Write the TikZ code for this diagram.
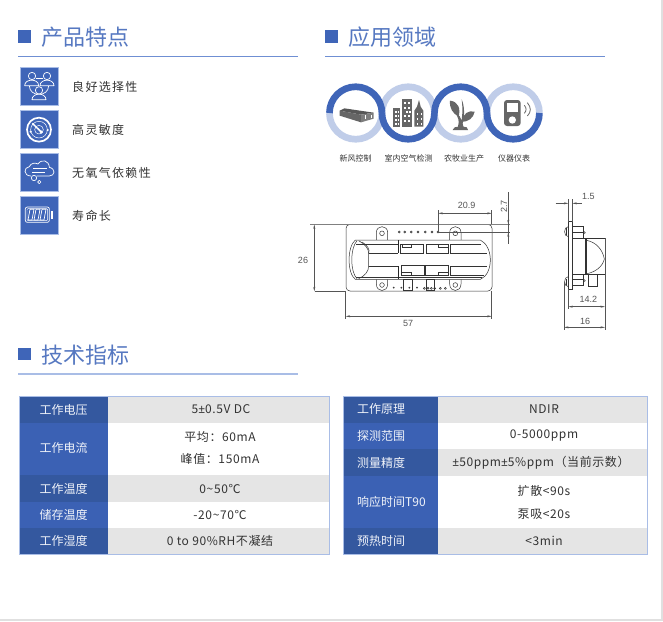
\documentclass[tikz,border=0pt]{standalone}
\usepackage{fontspec}
\usetikzlibrary{arrows.meta}
\setmainfont{Noto Sans CJK SC}
\newfontfamily\spc[LetterSpace=11]{Noto Sans CJK SC}
\newfontfamily\spv[LetterSpace=5]{Noto Sans CJK SC}
\newfontfamily\latv{Noto Sans}
\newfontfamily\dimf{Liberation Sans}
\newcommand{\pmch}{{\latv ±}}
\definecolor{blu}{HTML}{3F65B8}
\definecolor{rule}{HTML}{6F8FD3}
\definecolor{pale}{HTML}{A9BDE6}
\definecolor{ring}{HTML}{C0CDE9}
\definecolor{hdA}{HTML}{34589F}
\definecolor{hdB}{HTML}{3B61B4}
\definecolor{gry}{HTML}{E5E5E5}
\definecolor{ico}{HTML}{666666}
\definecolor{ink}{HTML}{333333}
\definecolor{dimc}{HTML}{555555}
\tikzset{
  title/.style={anchor=west,inner sep=0pt,text=blu!88!white,font=\fontsize{22}{24}\selectfont},
  feat/.style={anchor=west,inner sep=0pt,text=ink,font=\fontsize{12}{14}\spc},
  app/.style={inner sep=0pt,text=ink,font=\fontsize{8}{10}\selectfont},
  hd/.style={inner sep=0pt,text=white!92!blu,font=\fontsize{12}{14}\selectfont},
  val/.style={inner sep=0pt,text=ink,font=\fontsize{12}{14}\spv},
  iconbox/.style={fill=blu,draw=pale,line width=0.5pt},
  wl/.style={draw=white,line width=0.7pt,line join=round},
  dl/.style={draw=dimc,line width=0.45pt},
  mech/.style={draw=black!80,line width=0.5pt},
  dimarr/.style={dl,{Stealth[length=4.5pt,width=2pt]}-{Stealth[length=4.5pt,width=2pt]}},
  dimtxt/.style={inner sep=0pt,text=dimc,font=\fontsize{9}{11}\dimf},
  px3/.style={x=0.33333pt,y=-0.33333pt},
}
\begin{document}
\begin{tikzpicture}[x=1pt,y=-1pt]
\useasboundingbox (0,0) rectangle (663,621);
\fill[white] (0,0) rectangle (663,621);
\fill[black!12] (661,0) rectangle (663,621);
\fill[black!12] (0,619) rectangle (663,621);
% headings
\fill[blu] (18,30) rectangle (31,43);
\node[title] (t1) at (41,37) {产品特点};
\draw[rule,line width=0.8pt] (18,56.3) -- (298,56.3);
\fill[blu] (325,30) rectangle (338,43);
\node[title] (t2) at (348,37) {应用领域};
\draw[rule,line width=0.8pt] (325,56.3) -- (605,56.3);
\fill[blu] (18,347.5) rectangle (31,360);
\node[title] (t3) at (41,355) {技术指标};
\draw[pale,line width=1.2pt] (18,374) -- (298,374);
% feature icons
\foreach \yy in {67,110,153,196} \draw[iconbox] (20.5,\yy) rectangle (58.5,\yy+38);
\node[feat] (f1) at (72,87) {良好选择性};
\node[feat] (f2) at (72,130) {高灵敏度};
\node[feat] (f3) at (72,173) {无氧气依赖性};
\node[feat] (f4) at (72,216) {寿命长};
\begin{scope}[shift={(0,10)},px3]
 % people
 \draw[wl] (88,227) .. controls (88,262) and (146,262) .. (146,227);
 \draw[wl] (108,204) -- (128,204);
 \draw[wl,fill=blu] (74,227) .. controls (74,205) and (116,205) .. (116,227) -- cycle;
 \draw[wl,fill=blu] (120,227) .. controls (120,205) and (162,205) .. (162,227) -- cycle;
 \draw[wl,fill=blu] (96,198) circle (11);
 \draw[wl,fill=blu] (141,198) circle (11);
 \draw[wl,fill=blu] (96,269) .. controls (96,247) and (138,247) .. (138,269) -- cycle;
 \draw[wl,fill=blu] (117,241) circle (11);
 % radar
 \draw[white,line width=1.7pt] (117,359) circle (36);
 \draw[wl,line width=0.5pt] (117,359) circle (25);
 \draw[wl,line width=0.5pt] (117,359) circle (13);
 \draw[white,line width=1.5pt] (97,340) -- (124,366);
 \fill[white] (124,366) circle (5);
 \fill[white] (92,365) circle (3.5);
 \fill[white] (143,360) circle (3.5);
 % cloud
 \draw[wl] (93,498) .. controls (70,498) and (70,472) .. (88,470) .. controls (92,458) and (108,458) .. (114,462) .. controls (125,445) and (148,452) .. (148,472) .. controls (168,476) and (165,498) .. (148,498) -- (110,498);
 \draw[wl] (100,476) -- (140,476);
 \draw[wl] (96,486) -- (136,486);
 \draw[wl] (102,504) circle (8);
 \draw[wl] (118,516) circle (5);
 % battery
 \draw[wl,rounded corners=2pt] (76,591) rectangle (148,637);
 \draw[wl,line width=0.4pt,rounded corners=1pt] (81,596) rectangle (143,632);
 \draw[wl] (90,598) -- (84,630) -- (96,630) -- (102,598) -- cycle;
 \draw[wl] (108,598) -- (102,630) -- (114,630) -- (120,598) -- cycle;
 \draw[wl] (126,598) -- (120,630) -- (132,630) -- (138,598) -- cycle;
 \fill[white] (153,602) rectangle (158,628);
\end{scope}
% rings: pale halves first, dark S-curve above them
\foreach \cx in {355.7,460.7}
  \draw[ring,line width=6.7pt] (\cx-26.25,113) arc[start angle=180,end angle=360,radius=26.25pt];
\foreach \cx in {408.2,513.2}
  \draw[ring,line width=6.7pt] (\cx-26.25,113) arc[start angle=180,end angle=0,radius=26.25pt];
\foreach \cx in {355.7,460.7}
  \draw[blu,line width=6.7pt] (\cx-26.25,113) arc[start angle=180,end angle=0,radius=26.25pt];
\foreach \cx in {408.2,513.2}
  \draw[blu,line width=6.7pt] (\cx-26.25,113) arc[start angle=180,end angle=360,radius=26.25pt];
\begin{scope}[shift={(325,80)},px3]
 % vent box
 \fill[ico!85!black] (44,92) -- (58,85) -- (146,98) -- (108,104) -- cycle;
 \fill[ico] (44,92) -- (108,104) -- (108,127) -- (44,107) -- cycle;
 \fill[ico!85!white] (108,104) -- (146,98) -- (146,116) -- (108,127) -- cycle;
 \fill[white] (120,106) rectangle (124,118);
 \fill[white] (137,104) rectangle (141,114);
 % buildings
 \fill[ico] (205,85) rectangle (225,140);
 \fill[ico] (230,58) rectangle (262,140);
 \fill[ico] (268,140) -- (268,92) -- (276,80) -- (282,60) -- (287,80) -- (295,92) -- (295,140) -- cycle;
 \foreach \wx/\wy in {210/92,218/92,210/105,218/105,210/118,218/118,210/130,218/130,237/66,250/66,237/80,250/80,244/93,253/93,237/106,250/106,237/120,250/120,275/100,287/100,275/114,287/114,275/128,287/128}
   \fill[white] (\wx,\wy) rectangle +(5,6);
\end{scope}
\begin{scope}[shift={(430,80)},px3]
 % plant
 \fill[ico] (68,150) -- (74,142) -- (84,140) .. controls (90,120) and (82,112) .. (78,100) .. controls (88,105) and (92,112) .. (95,122) .. controls (95,110) and (100,98) .. (95,58) .. controls (104,80) and (104,105) .. (98,130) -- (100,140) -- (110,142) -- (114,150) -- cycle;
 \fill[ico] (60,62) .. controls (85,65) and (92,85) .. (86,110) .. controls (68,100) and (58,85) .. (60,62) -- cycle;
 \fill[ico] (134,95) .. controls (115,90) and (100,100) .. (94,126) .. controls (115,125) and (130,115) .. (134,95) -- cycle;
 % player
 \fill[ico,rounded corners=3pt] (222,60) rectangle (272,138);
 \fill[white] (230,68) rectangle (264,96);
 \fill[white] (247,120) circle (11);
 \draw[ico,line width=0.8pt] (283,76) .. controls (290,84) and (290,92) .. (283,100);
 \draw[ico,line width=0.8pt] (292,68) .. controls (304,82) and (304,96) .. (292,108);
\end{scope}
\node[app] (a1) at (355.5,158.5) {新风控制};
\node[app] (a2) at (408.5,158.5) {室内空气检测};
\node[app] (a3) at (464,158.5) {农牧业生产};
\node[app] (a4) at (514,158.5) {仪器仪表};
% module front view
\begin{scope}[shift={(342,220)},px3]
 \draw[mech,rounded corners=4pt] (12,13) rectangle (450,213);
 \foreach \tx in {120,340}{
   \draw[mech,fill=white] (\tx-17,60) -- (\tx-17,38) .. controls (\tx-17,14) and (\tx+17,14) .. (\tx+17,38) -- (\tx+17,60);
   \draw[mech] (\tx,40) circle (7);
   \draw[mech,fill=white] (\tx-17,178) -- (\tx-17,192) .. controls (\tx-17,218) and (\tx+17,218) .. (\tx+17,192) -- (\tx+17,178);
   \draw[mech] (\tx,195) circle (7);
 }
 \draw[mech,fill=white] (40,60) -- (415,60) .. controls (435,70) and (445,95) .. (445,120) .. controls (445,145) and (435,170) .. (415,178) -- (40,178) .. controls (15,160) and (15,80) .. (40,60) -- cycle;
 \draw[mech] (45,62) .. controls (24,85) and (24,155) .. (45,176);
 \draw[mech] (42,72) -- (168,72);
 \draw[mech] (42,172) -- (168,172);
 \draw[mech] (50,62) .. controls (68,72) and (80,85) .. (80,100) -- (80,138) .. controls (80,155) and (68,168) .. (50,176);
 \draw[mech] (60,66) .. controls (75,75) and (85,88) .. (80,100);
 \draw[mech] (80,100) -- (168,100);
 \draw[mech] (80,138) -- (168,138);
 \draw[black!85,line width=0.9pt] (168,60) -- (168,100);
 \draw[black!85,line width=0.9pt] (168,138) -- (168,178);
 \draw[mech] (176,72) rectangle (245,100);
 \draw[mech] (252,72) rectangle (320,100);
 \draw[mech] (178,135) rectangle (247,165);
 \draw[mech] (250,135) rectangle (320,165);
 \draw[mech] (180,72) rectangle (208,82);
 \draw[mech] (290,72) rectangle (318,82);
 \draw[mech] (178,157) rectangle (208,167);
 \draw[mech] (290,157) rectangle (320,167);
 \draw[mech] (325,72) -- (418,72);
 \draw[mech] (325,72) -- (325,100) -- (435,100);
 \draw[mech] (325,138) -- (435,138);
 \draw[mech] (325,138) -- (325,165) -- (425,165);
 \draw[mech] (170,172) -- (420,172);
 \foreach \px in {172,188,208,228,250,270,288} \draw[mech] (\px,36) circle (3);
 \foreach \px in {155,178,202,225} \fill[black!75] (\px,203) circle (3);
 \foreach \px in {247,258,268,278,295,310} \draw[mech] (\px,205) circle (3);
 \draw[mech] (185,178) rectangle (210,212);
 \draw[mech] (252,178) rectangle (278,212);
\end{scope}
% dimensions of the front view
\draw[black!50,line width=0.8pt] (310,224.3) -- (510,224.3);
\draw[dl] (315,291.3) -- (346,291.3);
\draw[dimarr] (314.3,224.5) -- (314.3,291.3);
\node[dimtxt] (d26) at (303,260) {26};
\draw[dl] (345.7,291) -- (345.7,319);
\draw[dl] (491.7,291) -- (491.7,319);
\draw[dimarr] (345.7,316.3) -- (491.7,316.3);
\node[dimtxt] (d57) at (408,323) {57};
\draw[dl] (438.3,210) -- (438.3,232);
\draw[dl] (491.7,210) -- (491.7,224);
\draw[dimarr] (438.3,213.3) -- (491.7,213.3);
\node[dimtxt] (d209) at (466.7,205.7) {20.9};
\draw[dl] (438.3,232.3) -- (510,232.3);
\draw[dl] (508.3,192) -- (508.3,244);
\draw[dl,-{Stealth[length=4.5pt,width=2pt]}] (508.3,214) -- (508.3,224.3);
\draw[dl,-{Stealth[length=4.5pt,width=2pt]}] (508.3,242) -- (508.3,232.3);
\node[dimtxt,rotate=90] (d27) at (504,206.5) {2.7};
% module side view
\begin{scope}[shift={(540,185)},px3]
 \draw[mech] (85,110) rectangle (97,312);
 \draw[mech] (97,160) rectangle (137,268);
 \draw[mech] (137,160) rectangle (140,268);
 \draw[mech] (140,160) -- (195,160);
 \draw[mech] (140,268) -- (195,268);
 \draw[mech] (140,166) .. controls (170,172) and (188,195) .. (193,222) .. controls (188,245) and (165,262) .. (140,266);
 \draw[mech] (145,268) rectangle (172,303);
 \draw[mech] (97,125) rectangle (130,160);
 \draw[mech] (97,268) rectangle (130,300);
 \draw[mech] (97,142) -- (130,142);
 \draw[mech] (97,284) -- (130,284);
 \draw[mech] (130,138) -- (136,143) -- (130,148);
 \draw[mech] (130,282) -- (136,287) -- (130,292);
 \draw[mech] (85,125) .. controls (70,125) and (70,155) .. (85,155);
 \draw[mech] (85,275) .. controls (70,275) and (70,305) .. (85,305);
 \draw[mech] (78,130) -- (78,150);
 \draw[mech] (78,282) -- (78,300);
 \draw[dl] (85,42) -- (85,110);
 \draw[dl] (97,42) -- (97,110);
 \draw[dl,-{Stealth[length=4.5pt,width=2pt]}] (47,55) -- (85,55);
 \draw[dl,-{Stealth[length=4.5pt,width=2pt]}] (125,55) -- (97,55);
 \node[dimtxt] (d15) at (145,33) {1.5};
 \draw[dl] (195,160) -- (195,435);
 \draw[dl] (85,312) -- (85,372);
 \draw[dl] (72,290) -- (72,435);
 \draw[dimarr] (85,365) -- (195,365);
 \node[dimtxt] (d142) at (145,342) {14.2};
 \draw[dimarr] (72,427) -- (195,427);
 \node[dimtxt] (d16) at (135,410) {16};
\end{scope}
% left table
\fill[hdA] (19,396.3) rectangle (108.3,422.7);
\fill[hdB] (19,422.7) rectangle (108.3,475);
\fill[hdA] (19,475) rectangle (108.3,501.7);
\fill[hdB] (19,501.7) rectangle (108.3,528.3);
\fill[hdA] (19,528.3) rectangle (108.3,554.3);
\fill[gry] (108.3,396.3) rectangle (329.3,422.7);
\fill[gry] (108.3,475) rectangle (329.3,501.7);
\fill[gry] (108.3,528.3) rectangle (329.3,554.3);
\draw[pale,line width=0.7pt] (19,396.3) rectangle (329.3,554.3);
\node[hd] (l1) at (63.6,409.5) {工作电压};
\node[hd] (l2) at (63.6,447.5) {工作电流};
\node[hd] (l3) at (63.6,488.5) {工作温度};
\node[hd] (l4) at (63.6,515) {储存温度};
\node[hd] (l5) at (63.6,541.3) {工作湿度};
\node[val] (v1) at (221,409.5) {5\pmch 0.5V DC};
\node[val] (v2a) at (220,437.3) {平均：60mA};
\node[val] (v2b) at (220,459) {峰值：150mA};
\node[val] (v3) at (220,488.5) {0\textasciitilde 50℃};
\node[val] (v4) at (220,515) {-20\textasciitilde 70℃};
\node[val] (v5) at (220,541.3) {0 to 90\%RH不凝结};
% right table
\fill[hdA] (343.7,396) rectangle (438.3,422.7);
\fill[hdB] (343.7,422.7) rectangle (438.3,449.3);
\fill[hdA] (343.7,449.3) rectangle (438.3,475.7);
\fill[hdB] (343.7,475.7) rectangle (438.3,528);
\fill[hdA] (343.7,528) rectangle (438.3,554.3);
\fill[gry] (438.3,396) rectangle (647.7,422.7);
\fill[gry] (438.3,449.3) rectangle (647.7,475.7);
\fill[gry] (438.3,528) rectangle (647.7,554.3);
\draw[pale,line width=0.7pt] (343.7,396) rectangle (647.7,554.3);
\node[hd,anchor=west] (r1) at (357,409.3) {工作原理};
\node[hd,anchor=west] (r2) at (357,436) {探测范围};
\node[hd,anchor=west] (r3) at (357,462.5) {测量精度};
\node[hd,anchor=west] (r4) at (357,502) {响应时间T90};
\node[hd,anchor=west] (r5) at (357,541.3) {预热时间};
\node[val] (w1) at (544,409.3) {NDIR};
\node[val] (w2) at (544,436) {0-5000ppm};
\node[val] (w3) at (541,462.5) {\pmch 50ppm\pmch 5\%ppm（当前示数）};
\node[val] (w4a) at (544,490.7) {扩散<90s};
\node[val] (w4b) at (544,514) {泵吸<20s};
\node[val] (w5) at (544,541.3) {<3min};
\end{tikzpicture}
\end{document}
